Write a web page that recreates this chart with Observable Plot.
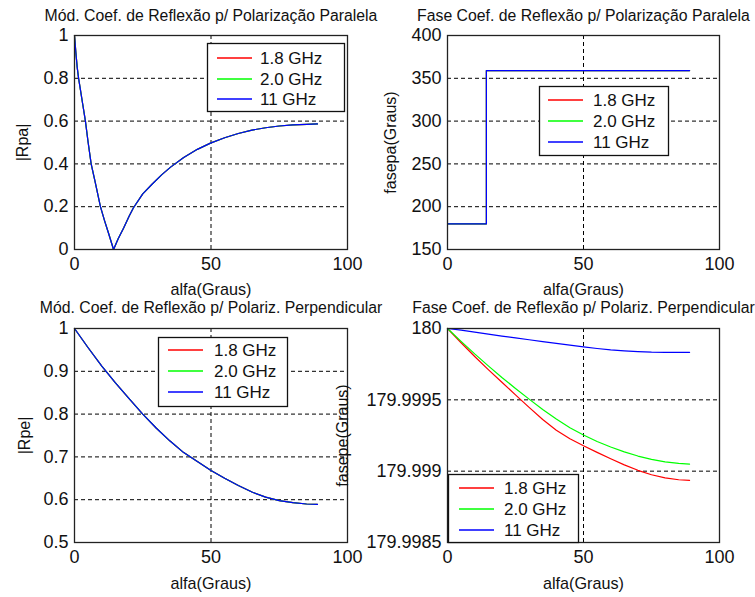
<!DOCTYPE html>
<html>
<head>
<meta charset="utf-8">
<script src="https://cdn.jsdelivr.net/npm/d3@7"></script>
<script src="https://cdn.jsdelivr.net/npm/@observablehq/plot@0.6"></script>
<style>
  html, body { margin: 0; padding: 0; background: #fff; }
  #wrap { position: relative; width: 755px; height: 597px; overflow: hidden; font-family: "Liberation Sans", Arial, sans-serif; }
  #wrap svg { position: absolute; }
  .legend { position: absolute; }
</style>
</head>
<body>
<div id="wrap"></div>
<script>
// ---- data ----
const seriesNames = ["1.8 GHz", "2.0 GHz", "11 GHz"];
const seriesColors = ["#ff0000", "#00ff00", "#0000ff"];
const xTicks = [0, 50, 100];

// |Rpa| (the three frequencies coincide)
const alfaRpa = [0, 0.5, 1, 1.5, 2, 3, 4, 5, 6.1, 7.5, 9.5, 11, 12.5, 14.3, 16, 18, 20, 21.6, 25, 28.4, 32, 35.2, 40, 45, 49.8, 55, 60, 65, 70, 75, 80, 85, 89];
const rpa = [1, 0.92, 0.85, 0.8, 0.76, 0.68, 0.6, 0.5, 0.4, 0.32, 0.2, 0.135, 0.075, 0, 0.05, 0.1, 0.155, 0.195, 0.26, 0.305, 0.35, 0.385, 0.43, 0.468, 0.497, 0.522, 0.542, 0.558, 0.569, 0.577, 0.582, 0.585, 0.587];
const rpaTicks = [0, 0.2, 0.4, 0.6, 0.8, 1];

// fasepa (the three frequencies coincide)
const alfaFasepa = [0, 14.3, 14.3, 89];
const fasepa = [180, 180, 359, 359];
const fasepaTicks = [150, 200, 250, 300, 350, 400];

// |Rpe| (the three frequencies coincide)
const alfa = [0, 5, 10, 15, 20, 25, 30, 35, 40, 45, 50, 55, 60, 65, 70, 75, 80, 85, 89];
const rpe = [1, 0.955, 0.912, 0.873, 0.836, 0.8, 0.767, 0.737, 0.71, 0.689, 0.668, 0.65, 0.633, 0.618, 0.606, 0.598, 0.593, 0.59, 0.589];
const rpeTicks = [0.5, 0.6, 0.7, 0.8, 0.9, 1];

// fasepe
const fasepe18 = [180, 179.9999, 179.999804, 179.999712, 179.999623, 179.999535, 179.999447, 179.999362, 179.999287, 179.999227, 179.999178, 179.999132, 179.999087, 179.999044, 179.999006, 179.998975, 179.998953, 179.99894, 179.998936];
const fasepe20 = [180, 179.99991, 179.999822, 179.999738, 179.999657, 179.99958, 179.999505, 179.999432, 179.999365, 179.999305, 179.999253, 179.999208, 179.999169, 179.999135, 179.999106, 179.999083, 179.999065, 179.999054, 179.99905];
const fasepe11 = [180, 179.999988, 179.999975, 179.999961, 179.999947, 179.999934, 179.999921, 179.999908, 179.999896, 179.999884, 179.999871, 179.99986, 179.99985, 179.999843, 179.999838, 179.999834, 179.999833, 179.999833, 179.999833];
const fasepeTicks = [179.9985, 179.999, 179.9995, 180];

const wrap = document.getElementById("wrap");
const FONT = "'Liberation Sans', Arial, Helvetica, sans-serif";

function panel(o) {
  const grid = {stroke: "black", strokeOpacity: 1, strokeWidth: 1, strokeDasharray: "4,3"};
  const marks = [
    Plot.gridX(xTicks, grid),
    Plot.gridY(o.yticks, grid),
    ...o.series.map((s, k) => Plot.line(s.y, {x: (d, i) => s.x[i], y: d => d, stroke: seriesColors[k], strokeWidth: 1.2})),
    Plot.frame({stroke: "#222", strokeWidth: 1.3}),
    Plot.axisX({ticks: xTicks, tickSize: 0, tickPadding: 8, fontSize: 18, label: null, tickFormat: d => String(d)}),
    Plot.axisY({ticks: o.yticks, tickSize: 0, tickPadding: 6, fontSize: 18, label: null, tickFormat: o.yfmt}),
    Plot.text([o.title], {text: d => d, frameAnchor: "top", lineAnchor: "middle", dy: o.titleDy, fontSize: 15.8, fill: "#111"}),
    Plot.text(["alfa(Graus)"], {text: d => d, frameAnchor: "bottom", lineAnchor: "middle", dy: o.xlabelDy, fontSize: 16.2, fill: "#111"}),
    Plot.text([o.ylabel], {text: d => d, frameAnchor: "left", lineAnchor: "middle", textAnchor: "middle", rotate: -90, dx: o.ylabelDx, fontSize: 16, fill: "#111"})
  ];
  const svg = Plot.plot({
    width: o.width, height: o.height,
    marginLeft: o.ml, marginRight: o.mr, marginTop: o.mt, marginBottom: o.mb,
    x: {domain: [0, 100]},
    y: {domain: o.ydomain},
    style: {background: "transparent", overflow: "visible", fontFamily: FONT, color: "#111"},
    marks
  });
  svg.style.left = o.left + "px";
  svg.style.top = o.top + "px";
  wrap.appendChild(svg);
}

function legend(left, top, w, h, lineX0, lineX1, textX, rows) {
  const d = document.createElement("div");
  d.className = "legend";
  d.style.left = left + "px";
  d.style.top = top + "px";
  let s = `<svg width="${w + 1}" height="${h + 1}" style="position:static;display:block;overflow:visible">`;
  s += `<rect x="0.5" y="0.5" width="${w}" height="${h}" fill="#fff" stroke="#111" stroke-width="1.3"/>`;
  seriesNames.forEach((n, k) => {
    s += `<line x1="${lineX0}" x2="${lineX1}" y1="${rows[k]}" y2="${rows[k]}" stroke="${seriesColors[k]}" stroke-width="1.4"/>`;
    s += `<text x="${textX}" y="${rows[k]}" dy="0.35em" font-size="17" font-family="${FONT.replace(/'/g, "")}" fill="#111">${n}</text>`;
  });
  s += `</svg>`;
  d.innerHTML = s;
  wrap.appendChild(d);
}

const fmt1 = d => String(+d.toFixed(1));

panel({
  left: 0, top: 0, width: 377, height: 290, ml: 74, mr: 30, mt: 35, mb: 41,
  ydomain: [0, 1], yticks: rpaTicks, yfmt: fmt1,
  series: [{x: alfaRpa, y: rpa}, {x: alfaRpa, y: rpa}, {x: alfaRpa, y: rpa}],
  title: "Mód. Coef. de Reflexão p/ Polarização Paralela", titleDy: -20,
  ylabel: "|Rpa|", ylabelDx: -52, xlabelDy: 40
});
panel({
  left: 377, top: 0, width: 378, height: 290, ml: 70, mr: 36, mt: 35, mb: 41,
  ydomain: [150, 400], yticks: fasepaTicks, yfmt: d => String(d),
  series: [{x: alfaFasepa, y: fasepa}, {x: alfaFasepa, y: fasepa}, {x: alfaFasepa, y: fasepa}],
  title: "Fase Coef. de Reflexão p/ Polarização Paralela", titleDy: -20,
  ylabel: "fasepa(Graus)", ylabelDx: -57, xlabelDy: 40
});
panel({
  left: 0, top: 290, width: 377, height: 307, ml: 74, mr: 30, mt: 38, mb: 55,
  ydomain: [0.5, 1], yticks: rpeTicks, yfmt: fmt1,
  series: [{x: alfa, y: rpe}, {x: alfa, y: rpe}, {x: alfa, y: rpe}],
  title: "Mód. Coef. de Reflexão p/ Polariz. Perpendicular", titleDy: -21,
  ylabel: "|Rpe|", ylabelDx: -50, xlabelDy: 41
});
panel({
  left: 300, top: 290, width: 455, height: 307, ml: 147, mr: 36, mt: 38, mb: 55,
  ydomain: [179.9985, 180], yticks: fasepeTicks, yfmt: d => String(+d.toFixed(4)),
  series: [{x: alfa, y: fasepe18}, {x: alfa, y: fasepe20}, {x: alfa, y: fasepe11}],
  title: "Fase Coef. de Reflexão p/ Polariz. Perpendicular", titleDy: -21,
  ylabel: "fasepe(Graus)", ylabelDx: -105, xlabelDy: 41
});

legend(207, 43, 137, 68, 10, 45, 53, [15, 36, 56]);
legend(539, 86, 129, 69, 9, 44, 54, [14, 35, 56]);
legend(158, 337, 129, 69, 10, 45, 56, [13, 34, 55]);
legend(448, 474, 130, 68, 11, 46, 56, [14, 35, 56]);
</script>
</body>
</html>
